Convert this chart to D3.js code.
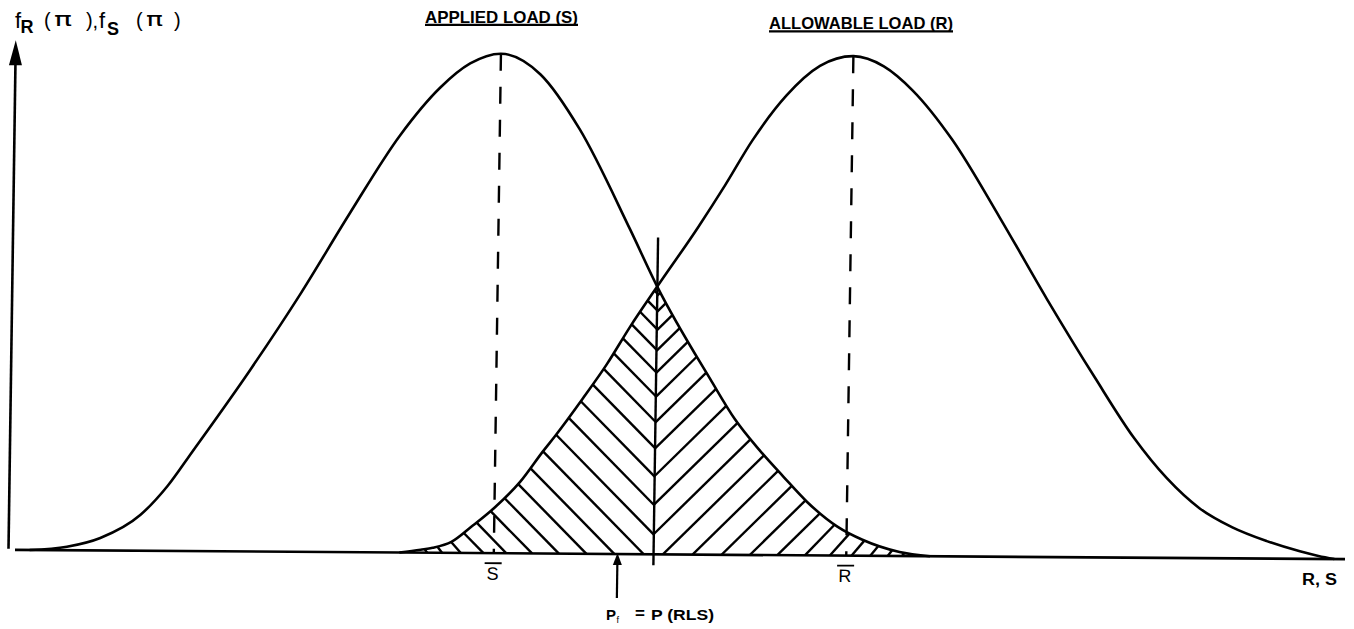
<!DOCTYPE html>
<html>
<head>
<meta charset="utf-8">
<script src="https://cdn.jsdelivr.net/npm/d3@7"></script>
<style>
  html, body { margin: 0; padding: 0; background: #fff; }
  svg { display: block; }
  text { font-family: "Liberation Sans", Arial, Helvetica, sans-serif; fill: #000; }
</style>
</head>
<body>
<svg id="chart" width="1354" height="629"></svg>
<script>
// Applied load S: probability density over the load axis (peak normalised to 1)
const sLoad    = [1.1, 3.9, 6.4, 9.4, 11.4, 13.2, 17.5, 21.2, 24.8, 28.5, 31.5, 33.7, 36.0,
                  39.0, 42.0, 45.9, 48.0, 52.1, 54.0, 55.7, 57.7, 59.5, 61.8, 63.7, 66.5, 68.8];
const sDensity = [0, 0.007, 0.025, 0.072, 0.13, 0.198, 0.364, 0.517, 0.678, 0.835, 0.932, 0.980, 1.0,
                  0.959, 0.85, 0.650, 0.536, 0.351, 0.271, 0.215, 0.157, 0.107, 0.058, 0.032, 0.008, 0];

// Allowable load R: probability density over the same axis
const rLoad    = [28.9, 30.5, 31.4, 32.8, 34.3, 36.0, 37.9, 39.6, 40.5, 42.5, 44.3, 46.0, 48.0,
                  51.0, 53.0, 55.0, 57.5, 60.0, 62.5, 64.8, 67.0, 70.0, 73.7, 77.3, 81.0, 84.0,
                  86.5, 89.0, 91.5, 94.1, 96.6, 98.0, 99.2];
const rDensity = [0, 0.006, 0.010, 0.022, 0.053, 0.091, 0.143, 0.205, 0.236, 0.31, 0.38, 0.455, 0.536,
                  0.655, 0.74, 0.83, 0.92, 0.98, 1.0, 0.98, 0.932, 0.835, 0.678, 0.517, 0.36, 0.24,
                  0.16, 0.10, 0.062, 0.035, 0.015, 0.006, 0];

// Means of the two distributions and the point marked by the failure-probability arrow
const sMean = 36.0;
const rMean = 62.5;
const pfMark = 45.3;

// Text
const titleS = "APPLIED LOAD (S)";
const titleR = "ALLOWABLE LOAD (R)";
const xAxisLabel = "R, S";

const svg = d3.select("#chart");

const x = d3.scaleLinear().domain([0, 100]).range([15, 1345]);
const y = d3.scaleLinear().domain([0, 1]).range([554.5, 55]);
const base = y(0);

// The drawing sits slightly skewed, like a scanned sheet
const skewX = -0.0143, skewY = 0.007, cx = 680, cy = base;
const g = svg.append("g")
  .attr("transform", `matrix(1, ${skewY}, ${skewX}, 1, ${-skewX * cy}, ${-skewY * cx})`);

const line = d3.line().x(d => x(d[0])).y(d => y(d[1])).curve(d3.curveMonotoneX);
const sPts = sLoad.map((v, i) => [v, sDensity[i]]);
const rPts = rLoad.map((v, i) => [v, rDensity[i]]);

const hatchLayer = g.append("g");

const sPath = g.append("path").attr("d", line(sPts))
  .attr("fill", "none").attr("stroke", "#000").attr("stroke-width", 2.6).attr("stroke-linejoin", "round");
const rPath = g.append("path").attr("d", line(rPts))
  .attr("fill", "none").attr("stroke", "#000").attr("stroke-width", 2.6).attr("stroke-linejoin", "round");

// Dense samples of each rendered curve, ordered by x
function sample(node) {
  const L = node.getTotalLength(), out = [];
  for (let l = 0; l <= L; l += 0.5) {
    const p = node.getPointAtLength(l);
    out.push({ x: p.x, y: p.y });
  }
  return out;
}
const sSamp = sample(sPath.node());
const rSamp = sample(rPath.node());

function yAt(pts, px) {
  if (px <= pts[0].x) return base;
  if (px >= pts[pts.length - 1].x) return base;
  let lo = 0, hi = pts.length - 1;
  while (hi - lo > 1) {
    const m = (lo + hi) >> 1;
    if (pts[m].x <= px) lo = m; else hi = m;
  }
  const a = pts[lo], b = pts[hi];
  const t = b.x === a.x ? 0 : (px - a.x) / (b.x - a.x);
  return a.y + t * (b.y - a.y);
}

// Crossing of the two densities between the means
let xc = x((sMean + rMean) / 2);
{
  let prev = null;
  for (let px = x(sMean); px <= x(rMean); px += 0.25) {
    const d = yAt(sSamp, px) - yAt(rSamp, px);
    if (prev !== null && prev < 0 && d >= 0) { xc = px; break; }
    prev = d;
  }
}
const yc = (yAt(sSamp, xc) + yAt(rSamp, xc)) / 2;

// Overlap region: under R left of the crossing, under S right of it
const leftEdge = rSamp.filter(p => p.x <= xc).concat([{ x: xc, y: yc }]);
const rightEdge = sSamp.filter(p => p.x >= xc).reverse().concat([{ x: xc, y: yc }]);

const regionPts = leftEdge.concat(rightEdge.slice().reverse())
  .concat([{ x: rightEdge[0].x, y: base }, { x: leftEdge[0].x, y: base }]);
const defs = svg.append("defs");
defs.append("clipPath").attr("id", "overlap")
  .append("path")
  .attr("d", "M" + regionPts.map(p => `${p.x},${p.y}`).join("L") + "Z");

// Hatch strokes: start on the curve, run at roughly 45 degrees to the divider or the base line
function hatch(edge, dir) {
  const cum = [0];
  for (let i = 1; i < edge.length; i++) {
    cum.push(cum[i - 1] + Math.hypot(edge[i].x - edge[i - 1].x, edge[i].y - edge[i - 1].y));
  }
  const total = cum[cum.length - 1];
  const segs = [];
  let s = 4;
  let idx = 0;
  while (s < total - 2) {
    while (idx < cum.length - 2 && cum[idx + 1] < s) idx++;
    const P = edge[idx];
    const Q = edge[Math.min(idx + 6, edge.length - 1)];
    const phi = Math.atan2(Math.abs(P.y - Q.y), Math.abs(Q.x - P.x)) * 180 / Math.PI;
    const theta = (45 + Math.max(0, 40 - phi) * 0.3) * Math.PI / 180;
    const dx = dir * Math.cos(theta), dy = Math.sin(theta);
    let tt = (xc - P.x) / dx;
    let ex = xc, ey = P.y + tt * dy;
    if (ey > base) {
      tt = (base - P.y) / dy;
      ex = P.x + tt * dx;
      ey = base;
    }
    if (Math.hypot(ex - P.x, ey - P.y) > 1.5) segs.push([P.x, P.y, ex, ey]);
    const t = s / total;
    s += 9 + 12 * Math.pow(Math.sin(Math.PI * t), 0.7);
  }
  return segs;
}

const hatchSegs = hatch(leftEdge, 1).concat(hatch(rightEdge, -1));
hatchLayer.attr("clip-path", "url(#overlap)")
  .selectAll("line").data(hatchSegs).join("line")
  .attr("x1", d => d[0]).attr("y1", d => d[1])
  .attr("x2", d => d[2]).attr("y2", d => d[3])
  .attr("stroke", "#000").attr("stroke-width", 2.4);

// Divider through the crossing
g.append("line")
  .attr("x1", xc).attr("x2", xc)
  .attr("y1", yc - 49).attr("y2", base + 11)
  .attr("stroke", "#000").attr("stroke-width", 2.4);

// Dashed lines at the means
[sMean, rMean].forEach(m => {
  g.append("line")
    .attr("x1", x(m)).attr("x2", x(m))
    .attr("y1", y(1)).attr("y2", base)
    .attr("stroke", "#000").attr("stroke-width", 2.4)
    .attr("stroke-dasharray", "17,16");
});

// Base line (R, S axis)
g.append("line")
  .attr("x1", x(0)).attr("x2", x(100))
  .attr("y1", base).attr("y2", base)
  .attr("stroke", "#000").attr("stroke-width", 2.6);

// Density axis with arrow
g.append("line")
  .attr("x1", 8.5).attr("x2", 8.5)
  .attr("y1", base - 1).attr("y2", 66)
  .attr("stroke", "#000").attr("stroke-width", 2.6);
g.append("path")
  .attr("d", "M8.5,45 L15,70 L2,70 Z")
  .attr("fill", "#000");

// Mean labels with overbars
[[sMean, "S"], [rMean, "R"]].forEach(([m, t]) => {
  g.append("text")
    .attr("x", x(m) - 1).attr("y", base + 26.5)
    .attr("text-anchor", "middle")
    .attr("font-size", 18)
    .text(t);
  g.append("line")
    .attr("x1", x(m) - 9).attr("x2", x(m) + 8)
    .attr("y1", base + 10).attr("y2", base + 10)
    .attr("stroke", "#000").attr("stroke-width", 1.8);
});

// Failure probability arrow
g.append("line")
  .attr("x1", x(pfMark)).attr("x2", x(pfMark))
  .attr("y1", base + 44).attr("y2", base + 8)
  .attr("stroke", "#000").attr("stroke-width", 2.2);
g.append("path")
  .attr("d", `M${x(pfMark)},${base - 1} L${x(pfMark) + 4.5},${base + 11} L${x(pfMark) - 4.5},${base + 11} Z`)
  .attr("fill", "#000");

// Titles over the curves
function title(txt, x0, x1, yb, size) {
  svg.append("text")
    .attr("x", x0).attr("y", yb)
    .attr("font-size", size).attr("font-weight", "bold")
    .attr("textLength", x1 - x0).attr("lengthAdjust", "spacingAndGlyphs")
    .text(txt);
  svg.append("line")
    .attr("x1", x0).attr("x2", x1)
    .attr("y1", yb + 2.3).attr("y2", yb + 2.3)
    .attr("stroke", "#000").attr("stroke-width", 2.2);
}
title(titleS, 425, 578, 22.5, 16.5);
title(titleR, 769, 953, 29, 17);

// Density axis label: f_R ( π ), f_S ( π )
const yl = svg.append("text").attr("font-size", 20);
yl.append("tspan").attr("x", 15).attr("y", 28).attr("font-size", 22).text("f");
yl.append("tspan").attr("x", 20.5).attr("y", 33).attr("font-size", 18).attr("font-weight", "bold").text("R");
yl.append("tspan").attr("x", 44).attr("y", 27).text("(");
yl.append("tspan").attr("x", 54).attr("y", 25.5).attr("font-size", 20)
  .attr("textLength", 18).attr("lengthAdjust", "spacingAndGlyphs")
  .style("font-family", "'DejaVu Sans', sans-serif").text("π");
yl.append("tspan").attr("x", 86).attr("y", 27).text(")");
yl.append("tspan").attr("x", 92.5).attr("y", 28).text(",");
yl.append("tspan").attr("x", 99).attr("y", 28).attr("font-size", 22).text("f");
yl.append("tspan").attr("x", 107).attr("y", 35).attr("font-size", 18).attr("font-weight", "bold").text("S");
yl.append("tspan").attr("x", 136).attr("y", 27).text("(");
yl.append("tspan").attr("x", 146).attr("y", 25.5).attr("font-size", 20)
  .attr("textLength", 17).attr("lengthAdjust", "spacingAndGlyphs")
  .style("font-family", "'DejaVu Sans', sans-serif").text("π");
yl.append("tspan").attr("x", 174).attr("y", 27).text(")");

// Load axis label
svg.append("text")
  .attr("x", 1302).attr("y", 585)
  .attr("font-size", 16).attr("font-weight", "bold")
  .attr("textLength", 35).attr("lengthAdjust", "spacingAndGlyphs")
  .text(xAxisLabel);

// P_f = P (R < S)
const pl = svg.append("text").attr("font-size", 15).attr("font-weight", "bold");
pl.append("tspan").attr("x", 606).attr("y", 620).text("P");
pl.append("tspan").attr("x", 616.5).attr("y", 623).attr("font-size", 9).attr("font-weight", "normal").text("f");
pl.append("tspan").attr("x", 635).attr("y", 619).attr("font-size", 17).text("=");
pl.append("tspan").attr("x", 651).attr("y", 620)
  .attr("textLength", 63).attr("lengthAdjust", "spacingAndGlyphs").text("P (RLS)");
</script>
</body>
</html>
